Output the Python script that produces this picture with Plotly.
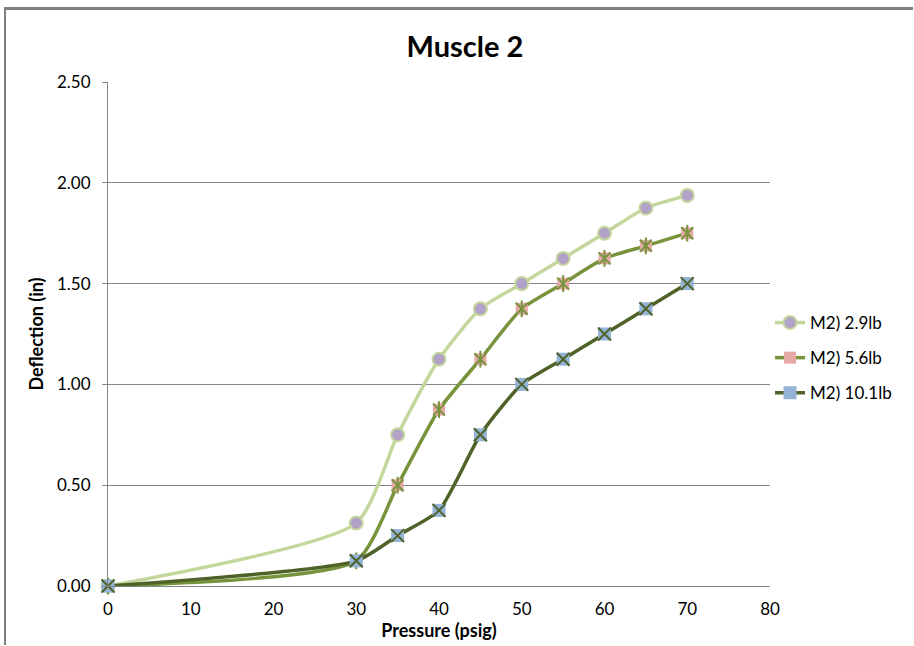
import plotly.graph_objects as go

pressure = [0, 30, 35, 40, 45, 50, 55, 60, 65, 70]
defl_29 = [0, 0.3125, 0.75, 1.125, 1.375, 1.5, 1.625, 1.75, 1.875, 1.9375]
defl_56 = [0, 0.125, 0.5, 0.875, 1.125, 1.375, 1.5, 1.625, 1.6875, 1.75]
defl_101 = [0, 0.125, 0.25, 0.375, 0.75, 1.0, 1.125, 1.25, 1.375, 1.5]
names = ["M2) 2.9lb", "M2) 5.6lb", "M2) 10.1lb"]
y_ticks = [0, 0.5, 1.0, 1.5, 2.0, 2.5]
x_ticks = [0, 10, 20, 30, 40, 50, 60, 70, 80]

FONT = "Lato"
SMOOTH = 0.6
fig = go.Figure()

# Series 1: light green line, lavender circles
fig.add_trace(go.Scatter(
    x=pressure, y=defl_29, name=names[0], mode="lines+markers", cliponaxis=False,
    line=dict(color="#C3D69B", width=3.5, shape="spline", smoothing=SMOOTH),
    marker=dict(symbol="circle", size=13, color="#B3A2C7",
                line=dict(color="#C3D69B", width=2)),
    legendgroup="a"))

# Series 2: mid green line, pink squares with star
fig.add_trace(go.Scatter(
    x=pressure, y=defl_56, name=names[1], mode="lines+markers", cliponaxis=False,
    line=dict(color="#77933C", width=3.5, shape="spline", smoothing=SMOOTH),
    marker=dict(symbol="square", size=12, color="#E6A9A6",
                line=dict(color="#E6A9A6", width=0)),
    legendgroup="b"))
fig.add_trace(go.Scatter(
    x=pressure, y=defl_56, mode="markers", showlegend=False, legendgroup="b",
    hoverinfo="skip", cliponaxis=False,
    marker=dict(symbol="x-thin-open", size=12, color="#77933C",
                line=dict(color="#77933C", width=2))))
fig.add_trace(go.Scatter(
    x=pressure, y=defl_56, mode="markers", showlegend=False, legendgroup="b",
    hoverinfo="skip", cliponaxis=False,
    marker=dict(symbol="line-ns-open", size=12, color="#77933C",
                line=dict(color="#77933C", width=2))))

# Series 3: dark olive line, blue squares with X
fig.add_trace(go.Scatter(
    x=pressure, y=defl_101, name=names[2], mode="lines+markers", cliponaxis=False,
    line=dict(color="#4F6228", width=3.5, shape="spline", smoothing=SMOOTH),
    marker=dict(symbol="square", size=13, color="#95B3D7",
                line=dict(color="#95B3D7", width=0)),
    legendgroup="c"))
fig.add_trace(go.Scatter(
    x=pressure, y=defl_101, mode="markers", showlegend=False, legendgroup="c",
    hoverinfo="skip", cliponaxis=False,
    marker=dict(symbol="x-thin-open", size=13, color="#4F6228",
                line=dict(color="#4F6228", width=2))))

L, R, T, B = 108, 144, 82, 60
W, H = 914, 646
pw, ph = W - L - R, H - T - B

fig.update_layout(
    width=W, height=H,
    margin=dict(l=L, r=R, t=T, b=B),
    paper_bgcolor="white", plot_bgcolor="white",
    font=dict(family=FONT, size=17, color="#000000"),
    title=dict(text="<b>Muscle 2</b>", font=dict(family=FONT, size=29),
               x=(465 - L) / pw, xref="paper", xanchor="center",
               y=1 - 47 / H, yref="container", yanchor="middle"),
    showlegend=True,
    legend=dict(x=1.0, xanchor="left", y=(H - B - 358) / ph, yanchor="middle",
                font=dict(family=FONT, size=17), tracegroupgap=10,
                bgcolor="rgba(0,0,0,0)", itemwidth=30),
    xaxis=dict(range=[0, 80], tickvals=x_ticks, ticktext=[str(v) for v in x_ticks],
               showgrid=False, zeroline=False, showline=True, linecolor="#868686",
               linewidth=1, ticks="", tickfont=dict(size=17), ticklabelstandoff=8,
               title=dict(text="<b>Pressure (psig)</b>", font=dict(size=18), standoff=2)),
    yaxis=dict(range=[0, 2.5], tickvals=y_ticks, ticktext=[f"{v:.2f}" for v in y_ticks],
               showgrid=True, gridcolor="#868686", gridwidth=1, zeroline=False,
               showline=True, linecolor="#868686", linewidth=1,
               ticks="outside", ticklen=5, tickcolor="#868686", tickfont=dict(size=17),
               ticklabelstandoff=8,
               title=dict(text="<b>Deflection (in)</b>", font=dict(size=18), standoff=8)),
)

# chart frame (top and left edges visible, others run off the page)
fig.add_shape(type="rect", xref="paper", yref="paper", layer="above",
              x0=(4 - L) / pw, x1=(W - 1 - L) / pw,
              y0=(H - B - 7) / ph, y1=(H - B - 10) / ph,
              line=dict(width=0), fillcolor="#7F7F7F")
fig.add_shape(type="rect", xref="paper", yref="paper", layer="above",
              x0=(4 - L) / pw, x1=(6 - L) / pw,
              y0=(H - B - 8) / ph, y1=(-B + 1) / ph,
              line=dict(width=0), fillcolor="#7F7F7F")

fig.write_html("out.html", config={"displayModeBar": False})
